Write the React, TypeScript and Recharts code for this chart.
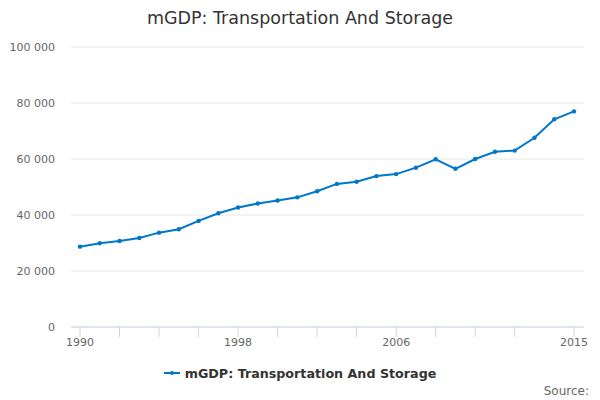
import React from 'react';
import { LineChart, Line, XAxis, YAxis, CartesianGrid, Legend } from 'recharts';

const years = [1990, 1991, 1992, 1993, 1994, 1995, 1996, 1997, 1998, 1999, 2000, 2001, 2002, 2003, 2004, 2005, 2006, 2007, 2008, 2009, 2010, 2011, 2012, 2013, 2014, 2015];
const values = [28700, 29900, 30700, 31800, 33700, 34900, 37900, 40600, 42700, 44100, 45200, 46300, 48500, 51100, 51900, 53900, 54600, 56900, 59900, 56500, 60000, 62600, 63000, 67600, 74200, 77000];
const xTicks = [1990, 1992, 1994, 1996, 1998, 2000, 2002, 2004, 2006, 2008, 2010, 2012, 2015];
const xLabels = [1990, 1998, 2006, 2015];
const yTicks = [0, 20000, 40000, 60000, 80000, 100000];

const seriesName = 'mGDP: Transportation And Storage';
const titleText = 'mGDP: Transportation And Storage';
const sourceText = 'Source:';

const data = years.map((y, i) => ({ year: y, value: values[i] }));

const FONT = '"DejaVu Sans", "Lucida Grande", sans-serif';
const BLUE = '#0077c8';

const fmt = (v: number) => String(v).replace(/\B(?=(\d{3})+(?!\d))/g, ' ');

const XTick = (props: any) => {
  const { x, y, payload } = props;
  if (!xLabels.includes(payload.value)) return null;
  return (
    <text x={x} y={y + 3} textAnchor="middle" dominantBaseline="central" fill="#666666" fontSize={11} fontFamily={FONT}>
      {payload.value}
    </text>
  );
};

const LegendContent = () => (
  <div style={{ display: 'flex', justifyContent: 'center', alignItems: 'center', height: 20, fontFamily: FONT }}>
    <svg width={16} height={10} style={{ marginRight: 5 }}>
      <line x1={0} y1={5} x2={16} y2={5} stroke={BLUE} strokeWidth={2} />
      <circle cx={8} cy={5} r={2} fill={BLUE} />
    </svg>
    <span style={{ fontSize: 12.7, fontWeight: 'bold', color: '#333333' }}>{seriesName}</span>
  </div>
);

export default function App() {
  return (
    <div style={{ position: 'absolute', left: 0, top: 0, width: 600, height: 400, background: '#fff' }}>
      <div style={{ position: 'absolute', left: 0, top: 6, width: 600, textAlign: 'center', fontFamily: FONT, fontSize: 17.5, color: '#333333', lineHeight: '24px' }}>
        {titleText}
      </div>
      <LineChart width={600} height={400} data={data} margin={{ top: 47, right: 16, bottom: 23, left: 0 }}>
        <CartesianGrid vertical={false} stroke="#e6e6e6" />
        <XAxis
          dataKey="year"
          type="number"
          domain={[1990, 2015]}
          ticks={xTicks}
          interval={0}
          padding={{ left: 9, right: 10 }}
          axisLine={{ stroke: '#ccd6eb' }}
          tickLine={{ stroke: '#ccd6eb' }}
          tickSize={10}
          tick={<XTick />}
          height={30}
        />
        <YAxis
          type="number"
          domain={[0, 100000]}
          ticks={yTicks}
          interval={0}
          width={71}
          axisLine={false}
          tickLine={false}
          tickSize={0}
          tickMargin={16}
          tickFormatter={fmt}
          tick={{ fill: '#666666', fontSize: 11, fontFamily: FONT }}
        />
        <Legend content={<LegendContent />} wrapperStyle={{ position: 'absolute', top: 363, left: 0, width: 600, height: 20 }} />
        <Line
          type="linear"
          dataKey="value"
          name={seriesName}
          stroke={BLUE}
          strokeWidth={2}
          dot={{ r: 2.2, fill: BLUE, stroke: BLUE, strokeWidth: 0 }}
          activeDot={false}
          isAnimationActive={false}
        />
      </LineChart>
      <div style={{ position: 'absolute', right: 11, top: 383, fontFamily: FONT, fontSize: 12, color: '#666666', lineHeight: '16px' }}>
        {sourceText}
      </div>
    </div>
  );
}
